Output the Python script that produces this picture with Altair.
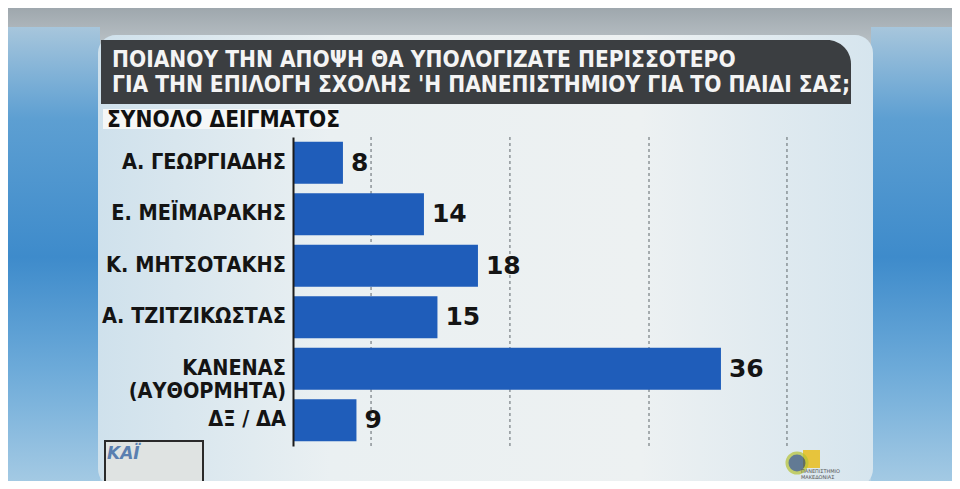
import altair as alt
import pandas as pd

# ---- data ----
categories = ["Α. ΓΕΩΡΓΙΑΔΗΣ", "Ε. ΜΕΪΜΑΡΑΚΗΣ", "Κ. ΜΗΤΣΟΤΑΚΗΣ",
              "Α. ΤΖΙΤΖΙΚΩΣΤΑΣ", "ΚΑΝΕΝΑΣ\n(ΑΥΘΟΡΜΗΤΑ)", "ΔΞ / ΔΑ"]
values = [8, 14, 18, 15, 36, 9]
title_lines = ["ΠΟΙΑΝΟΥ ΤΗΝ ΑΠΟΨΗ ΘΑ ΥΠΟΛΟΓΙΖΑΤΕ ΠΕΡΙΣΣΟΤΕΡΟ",
               "ΓΙΑ ΤΗΝ ΕΠΙΛΟΓΗ ΣΧΟΛΗΣ 'Η ΠΑΝΕΠΙΣΤΗΜΙΟΥ ΓΙΑ ΤΟ ΠΑΙΔΙ ΣΑΣ;"]
subtitle = "ΣΥΝΟΛΟ ΔΕΙΓΜΑΤΟΣ"
grid_values = [10.08, 20.37, 30.67, 40.89]
x_domain = [4.3, 45.04]

df = pd.DataFrame({"cat": categories, "val": values})
grid_df = pd.DataFrame({"g": grid_values})

COND = "DejaVu Sans Condensed, Liberation Sans Narrow, DejaVu Sans"
BAR = "#1f5dba"

xs = alt.Scale(domain=x_domain, zero=False, nice=False)
ys = alt.Scale(domain=categories, paddingInner=0.18, paddingOuter=0.09)
one = alt.Data(values=[{"a": 1}])


def grad(stops, vertical=True):
    return alt.LinearGradient(
        gradient="linear",
        stops=[alt.GradientStop(color=c, offset=o) for o, c in stops],
        x1=0, y1=0, x2=0 if vertical else 1, y2=1 if vertical else 0)


def box(x1, x2, y1, y2, **kw):
    return alt.Chart(one).mark_rect(**kw).encode(
        x=alt.value(x1), x2=alt.value(x2), y=alt.value(y1), y2=alt.value(y2))


def label(txt, x, y, **kw):
    return alt.Chart(one).mark_text(**kw).encode(
        x=alt.value(x), y=alt.value(y), text=alt.value(txt))


# background (coordinates relative to plot origin at page (293,137))
side = [(0, "#a7c6dc"), (0.2, "#5d9fd2"), (0.5, "#3e8bcb"), (0.75, "#6eabd9"),
        (1, "#a6cbe4")]
bg = box(-290, 670, -135, 350, fill=grad([(0, "#9aa3a9"), (0.07, "#b3bbc0"),
                                           (0.13, "#c6d3db"), (1, "#b7d1e2")]))
left_panel = box(-290, -193, -110, 350, fill=grad(side))
right_panel = box(578, 670, -110, 350, fill=grad(side))
center_panel = box(-195, 580, -102, 350, cornerRadius=18,
                   fill=grad([(0, "#cfe1ec"), (0.3, "#eaf0f2"), (0.7, "#edf1f2"),
                              (1, "#d6e5ee")], vertical=False))

title_box = box(-192, 558, -97, -33, fill="#3b3e41", cornerRadiusTopRight=24)
sub_box = box(-190, 46, -28, -8, fill="#f5f7f7")
t1 = label(title_lines[0], -181, -77, font=COND, fontWeight="bold", fontSize=22.5,
           color="#f4f4f4", align="left", baseline="middle")
t2 = label(title_lines[1], -181, -52, font=COND, fontWeight="bold", fontSize=22.5,
           color="#f4f4f4", align="left", baseline="middle")
st = label(subtitle, -186, -17.5, font=COND, fontWeight="bold", fontSize=22.5,
           color="#111111", align="left", baseline="middle")

# channel logo (bottom left) and university logo (bottom right)
logo_box = box(-188, -90, 304, 352, fill="#dfe3e2", stroke="#2a2a2a", strokeWidth=2)
logo_txt = label("ΚΑΪ", -186, 317, font="DejaVu Sans", fontWeight="bold",
                 fontStyle="italic", fontSize=17, color="#5a7fb0", align="left",
                 baseline="middle")
uni_rect = box(510, 527, 313, 331, fill="#e7c43c")
uni_sun = alt.Chart(one).mark_point(filled=True, shape="circle", size=400,
                                    color="#2e4c6e", stroke="#b5c234",
                                    strokeWidth=3).encode(
    x=alt.value(504), y=alt.value(326))
uni_t1 = label("ΠΑΝΕΠΙΣΤΗΜΙΟ", 508, 334, font="DejaVu Sans", fontSize=5,
               color="#555555", align="left", baseline="middle")
uni_t2 = label("ΜΑΚΕΔΟΝΙΑΣ", 508, 339.5, font="DejaVu Sans", fontSize=5,
               color="#555555", align="left", baseline="middle")

# chart proper
grid = alt.Chart(grid_df).mark_rule(color="#5f666b", strokeWidth=1,
                                    strokeDash=[3, 3]).encode(
    x=alt.X("g:Q", scale=xs, axis=None))

bars = alt.Chart(df).mark_bar(color=BAR, clip=True).encode(
    x=alt.X("val:Q", scale=xs, axis=None),
    y=alt.Y("cat:N", scale=ys, sort=categories, title=None,
            axis=alt.Axis(labels=False, ticks=False, domain=True,
                          domainColor="#1b1b1b", domainWidth=2, grid=False,
                          zindex=2)))

vals = alt.Chart(df).mark_text(align="left", baseline="middle", dx=8,
                               font="DejaVu Sans", fontWeight="bold",
                               fontSize=25, color="#141414").encode(
    x=alt.X("val:Q", scale=xs, axis=None),
    y=alt.Y("cat:N", scale=ys, sort=categories),
    text=alt.Text("val:Q"))

cats = alt.Chart(df).mark_text(align="right", baseline="middle", lineBreak="\n",
                               lineHeight=23, font=COND, fontWeight="bold",
                               fontSize=21.5, color="#141414").encode(
    x=alt.value(-7),
    y=alt.Y("cat:N", scale=ys, sort=categories),
    text=alt.Text("cat:N"))

chart = alt.layer(
    bg, left_panel, right_panel, center_panel, title_box, sub_box, t1, t2, st,
    logo_box, logo_txt, uni_rect, uni_sun, uni_t1, uni_t2,
    grid, bars, vals, cats
).properties(
    width=550, height=309,
    autosize=alt.AutoSizeParams(type="none"),
    padding={"left": 285, "top": 129, "right": 109, "bottom": 35},
).configure_view(stroke=None).configure(background="#c9d6dd")

chart.save("out.html", embed_options={"renderer": "svg", "actions": False})
